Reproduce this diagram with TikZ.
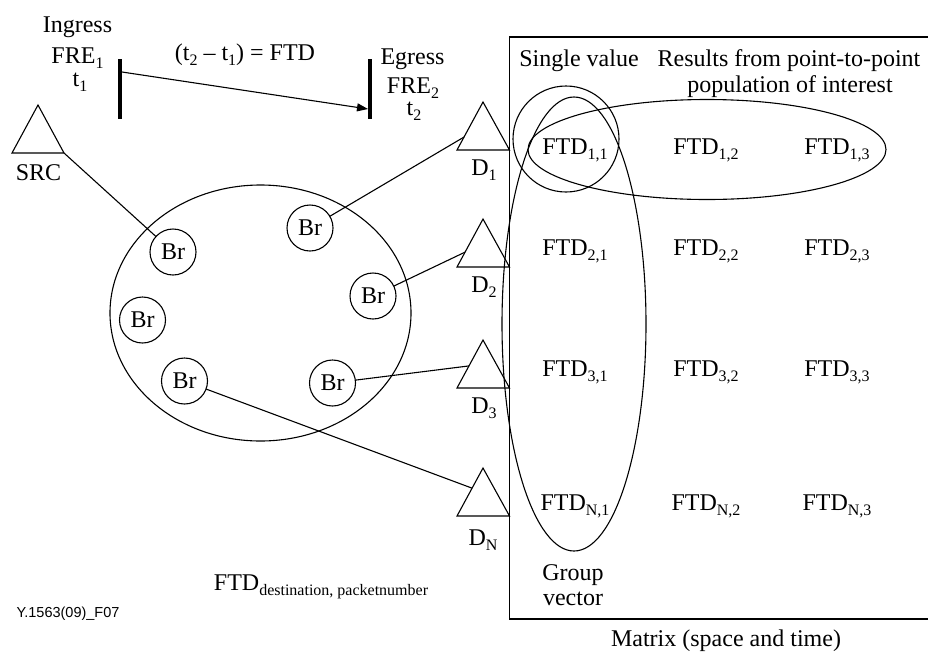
\documentclass[tikz,border=0pt]{standalone}
\usepackage{fontspec}
\setmainfont{Liberation Serif}
\newfontfamily\codefont{Liberation Sans}
\usetikzlibrary{calc,arrows.meta}
% lowered, smaller index text
\newcommand\sbx[1]{\raisebox{-5pt}{\fontsize{16}{16}\selectfont #1}}

\begin{document}
\begin{tikzpicture}[x=1pt,y=-1pt,
  every node/.style={inner sep=0pt, outer sep=0pt},
  txt/.style={font=\fontsize{24}{28}\selectfont, anchor=base},
  bridge/.style={draw, circle, line width=1.1pt, minimum size=46pt,
                 font=\fontsize{24}{28}\selectfont},
  wire/.style={line width=1.1pt, line join=miter},
  bar/.style={line width=4pt},
  group/.style={line width=1.1pt}]
\useasboundingbox (0,0) rectangle (928,654);

% ---- ingress / egress timing ----
\node[txt] (ingl1) at (77.5,32) {Ingress};
\node[txt] (ingl2) at (77.5,63) {FRE\sbx{1}};
\node[txt] (ingl3) at (80,86) {t\sbx{1}};
\node[txt] (ftdeq) at (245,60) {(t\sbx{2} -- t\sbx{1}) = FTD};
\node[txt] (egrl1) at (412.5,64) {Egress};
\node[txt] (egrl2) at (413,93) {FRE\sbx{2}};
\node[txt] (egrl3) at (414,115) {t\sbx{2}};

\coordinate (ingT) at (120,59);  \coordinate (ingB) at (120,119);
\coordinate (egrT) at (370,59);  \coordinate (egrB) at (370,119);
\draw[bar] (ingT) -- (ingB);
\draw[bar] (egrT) -- (egrB);
\coordinate (ingP) at (122,72);
\coordinate (egrP) at (368,109);
\draw[wire, -{Triangle[length=11pt,width=8pt]}] (ingP) -- (egrP);

% ---- source ----
\coordinate (srcA) at (38,105);
\coordinate (srcL) at (12,153);
\coordinate (srcR) at (64,153);
\draw[wire] (srcA) -- (srcL) -- (srcR) -- cycle;
\node[txt] (srclab) at (38.5,180) {SRC};

% ---- bridge cloud ----
\coordinate (cloud) at (260.5,313);
\draw[group] (cloud) ellipse [x radius=150.5pt, y radius=128pt];
\node[bridge] (br1) at (173,252) {Br};
\node[bridge] (br2) at (310,228) {Br};
\node[bridge] (br3) at (373,296) {Br};
\node[bridge] (br4) at (142.5,320) {Br};
\node[bridge] (br5) at (184.5,381) {Br};
\node[bridge] (br6) at (332.5,383) {Br};

% ---- destinations ----
\foreach \n/\y in {1/102, 2/219, 3/340, N/468}{
  \coordinate (d\n a) at (483,\y);
  \coordinate (d\n l) at (457,\y+48);
  \coordinate (d\n r) at (509.5,\y+48);
  \draw[wire] (d\n a) -- (d\n l) -- (d\n r) -- cycle;
}
\node[txt] (d1lab) at (484,175) {D\sbx{1}};
\node[txt] (d2lab) at (484,292) {D\sbx{2}};
\node[txt] (d3lab) at (484,413) {D\sbx{3}};
\node[txt] (dNlab) at (483,545) {D\sbx{N}};

\coordinate (d1in) at ($(d1a)!0.73!(d1l)$);
\coordinate (d2in) at ($(d2a)!0.69!(d2l)$);
\coordinate (d3in) at ($(d3a)!0.54!(d3l)$);
\coordinate (dNin) at ($(dNa)!0.42!(dNl)$);

\draw[wire] (srcR) -- (br1);
\draw[wire] (br2) -- (d1in);
\draw[wire] (br3) -- (d2in);
\draw[wire] (br6) -- (d3in);
\draw[wire] (br5) -- (dNin);

% ---- result matrix ----
\coordinate (boxTR) at (928,37);
\coordinate (boxTL) at (509.5,37);
\coordinate (boxBL) at (509.5,619);
\coordinate (boxBR) at (928,619);
\draw[wire] (boxTR) -- (boxTL) -- (boxBL) -- (boxBR);

\node[txt] (single) at (579,66) {Single value};
\node[txt] (res1) at (789,66) {Results from point-to-point};
\node[txt] (res2) at (790,92) {population of interest};

\foreach \r/\y in {1/154, 2/255, 3/376, N/510}{
  \node[txt] (m\r c1) at (575,\y) {FTD\sbx{\r,1}};
  \node[txt] (m\r c2) at (706,\y) {FTD\sbx{\r,2}};
  \node[txt] (m\r c3) at (837,\y) {FTD\sbx{\r,3}};
}

\node[txt] (grp1) at (573,580) {Group};
\node[txt] (grp2) at (573,605) {vector};
\node[txt] (mtx) at (726,646) {Matrix (space and time)};

% groupings inside the matrix
\draw[group] (566,139) circle [radius=53pt];
\draw[group] (707,149.5) ellipse [x radius=179pt, y radius=50pt];
\draw[group] (574,324) ellipse [x radius=72pt, y radius=227pt];

% ---- notation and figure code ----
\node[txt] (notation) at (321,590) {FTD\sbx{destination, packetnumber}};
\node[anchor=base, font=\codefont\fontsize{14.5}{16}\selectfont] (figcode) at (68,617) {Y.1563(09)\_F07};
\end{tikzpicture}
\end{document}
